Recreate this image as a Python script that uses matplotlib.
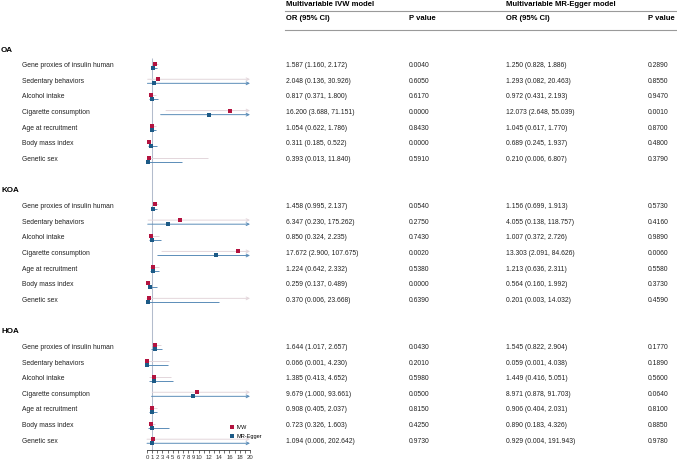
import numpy as np
import matplotlib
matplotlib.use('Agg')
import matplotlib.pyplot as plt
import matplotlib.transforms as mtransforms
from matplotlib.lines import Line2D

plt.rcParams['font.family'] = ['Liberation Sans', 'DejaVu Sans']

groups   = ['OA', 'KOA', 'HOA']
exposure = ['Gene proxies of insulin human', 'Sedentary behaviors', 'Alcohol intake',
            'Cigarette consumption', 'Age at recruitment', 'Body mass index', 'Genetic sex']

ivw_or = [[1.587, 2.048, 0.817, 16.200, 1.054, 0.311, 0.393],
          [1.458, 6.347, 0.850, 17.672, 1.224, 0.259, 0.370],
          [1.644, 0.066, 1.385, 9.679, 0.908, 0.723, 1.094]]
ivw_lo = [[1.160, 0.136, 0.371, 3.688, 0.622, 0.185, 0.013],
          [0.995, 0.230, 0.324, 2.900, 0.642, 0.137, 0.006],
          [1.017, 0.001, 0.413, 1.000, 0.405, 0.326, 0.006]]
ivw_hi = [[2.172, 30.926, 1.800, 71.151, 1.786, 0.522, 11.840],
          [2.137, 175.262, 2.235, 107.675, 2.332, 0.489, 23.668],
          [2.657, 4.230, 4.652, 93.661, 2.037, 1.603, 202.642]]
ivw_p  = [[0.0040, 0.6050, 0.6170, 0.0000, 0.8430, 0.0000, 0.5910],
          [0.0540, 0.2750, 0.7430, 0.0020, 0.5380, 0.0000, 0.6390],
          [0.0430, 0.2010, 0.5980, 0.0500, 0.8150, 0.4250, 0.9730]]

egg_or = [[1.250, 1.293, 0.972, 12.073, 1.045, 0.689, 0.210],
          [1.156, 4.055, 1.007, 13.303, 1.213, 0.564, 0.201],
          [1.545, 0.059, 1.449, 8.971, 0.906, 0.890, 0.929]]
egg_lo = [[0.828, 0.082, 0.431, 2.648, 0.617, 0.245, 0.006],
          [0.699, 0.138, 0.372, 2.091, 0.636, 0.160, 0.003],
          [0.822, 0.001, 0.416, 0.878, 0.404, 0.183, 0.004]]
egg_hi = [[1.886, 20.463, 2.193, 55.039, 1.770, 1.937, 6.807],
          [1.913, 118.757, 2.726, 84.626, 2.311, 1.992, 14.032],
          [2.904, 4.038, 5.051, 91.703, 2.031, 4.326, 191.943]]
egg_p  = [[0.2890, 0.8550, 0.9470, 0.0010, 0.8700, 0.4800, 0.3790],
          [0.5730, 0.4160, 0.9890, 0.0060, 0.5580, 0.3730, 0.4590],
          [0.1770, 0.1890, 0.5600, 0.0640, 0.8100, 0.8850, 0.9780]]

xmax = 20
tick_pos = list(range(0, 21))
tick_lab = [str(t) if (t <= 10 or t % 2 == 0) else '' for t in tick_pos]

# colours
c_ivw_pt  = '#B3133F'
c_ivw_ln  = '#E3D6DB'
c_egg_pt  = '#1C5A86'
c_egg_ln  = '#5B8DB8'
c_ref     = '#B3BCCC'
c_txt     = '#222222'

W, H = 677, 462
fig = plt.figure(figsize=(W / 100, H / 100), dpi=100)

# forest axes: x from 147px to 250px, bottom spine at 450px
row_px0, row_step = 50.0, 15.65
ax = fig.add_axes([147 / W, (H - 450) / H, 103 / W, 450 / H])
ax.set_xlim(0, xmax)
ax.set_ylim((450 - row_px0) / row_step, -row_px0 / row_step)

ax.spines[['top', 'right', 'left']].set_visible(False)
ax.spines['bottom'].set_linewidth(0.6)
ax.spines['bottom'].set_color('#333333')
ax.set_yticks([])
ax.set_xticks(tick_pos)
ax.set_xticklabels(tick_lab)
ax.tick_params(axis='x', length=2.5, width=0.5, labelsize=4.3, pad=1, colors='#333333')

ax.vlines(1, 0.5, ax.get_ylim()[0], color=c_ref, lw=0.75, zorder=1)

trans = mtransforms.blended_transform_factory(fig.transFigure, ax.transData)
fs = 4.9
fs_head = 5.5


def ci_line(y, lo, hi, color):
    if hi > xmax:
        ax.annotate('', xy=(xmax, y), xytext=(lo, y),
                    arrowprops=dict(arrowstyle='->', color=color, lw=0.7,
                                    shrinkA=0, shrinkB=0, mutation_scale=5),
                    zorder=2)
    else:
        ax.hlines(y, lo, hi, color=color, lw=0.7, zorder=2)


row = 0
for g in range(len(groups)):
    ax.text(1 / W, row, groups[g], transform=trans, fontsize=5.8,
            fontweight='bold', va='center', ha='left')
    row += 1
    for i in range(len(exposure)):
        y = row
        ax.text(22 / W, y, exposure[i], transform=trans, fontsize=fs, va='center', color=c_txt)
        ax.text(286 / W, y, f'{ivw_or[g][i]:.3f} ({ivw_lo[g][i]:.3f}, {ivw_hi[g][i]:.3f})',
                transform=trans, fontsize=fs, va='center', color=c_txt)
        ax.text(409 / W, y, f'{ivw_p[g][i]:.4f}', transform=trans, fontsize=fs,
                va='center', color=c_txt)
        ax.text(506 / W, y, f'{egg_or[g][i]:.3f} ({egg_lo[g][i]:.3f}, {egg_hi[g][i]:.3f})',
                transform=trans, fontsize=fs, va='center', color=c_txt)
        ax.text(648 / W, y, f'{egg_p[g][i]:.4f}', transform=trans, fontsize=fs,
                va='center', color=c_txt)

        ci_line(y - 0.13, ivw_lo[g][i], ivw_hi[g][i], c_ivw_ln)
        ci_line(y + 0.13, egg_lo[g][i], egg_hi[g][i], c_egg_ln)
        ax.plot(ivw_or[g][i], y - 0.13, 's', color=c_ivw_pt, ms=2.9, mew=0, zorder=3, clip_on=False)
        ax.plot(egg_or[g][i], y + 0.13, 's', color=c_egg_pt, ms=2.9, mew=0, zorder=3, clip_on=False)
        row += 1
    row += 1

# table header
fig.text(286 / W, 1 - 4 / H, 'Multivariable IVW model', fontsize=fs_head, fontweight='bold', va='center')
fig.text(506 / W, 1 - 4 / H, 'Multivariable MR-Egger model', fontsize=fs_head, fontweight='bold', va='center')
fig.text(286 / W, 1 - 19 / H, 'OR (95% CI)', fontsize=fs_head, fontweight='bold', va='center')
fig.text(409 / W, 1 - 19 / H, 'P value', fontsize=fs_head, fontweight='bold', va='center')
fig.text(506 / W, 1 - 19 / H, 'OR (95% CI)', fontsize=fs_head, fontweight='bold', va='center')
fig.text(648 / W, 1 - 19 / H, 'P value', fontsize=fs_head, fontweight='bold', va='center')
for py in (10.5, 29.5):
    fig.add_artist(Line2D([285 / W, 1.0], [1 - py / H, 1 - py / H], color='#9A9A9A', lw=0.8))

handles = [Line2D([], [], marker='s', ls='', color=c_ivw_pt, ms=3.2, mew=0, label='IVW'),
           Line2D([], [], marker='s', ls='', color=c_egg_pt, ms=3.2, mew=0, label='MR-Egger')]
ax.legend(handles=handles, loc='lower left', bbox_to_anchor=(0.78, 0.02), frameon=False,
          fontsize=4.0, handletextpad=0.3, labelspacing=0.7, handlelength=1.0, borderaxespad=0)

fig.savefig('out.png', dpi=100)
